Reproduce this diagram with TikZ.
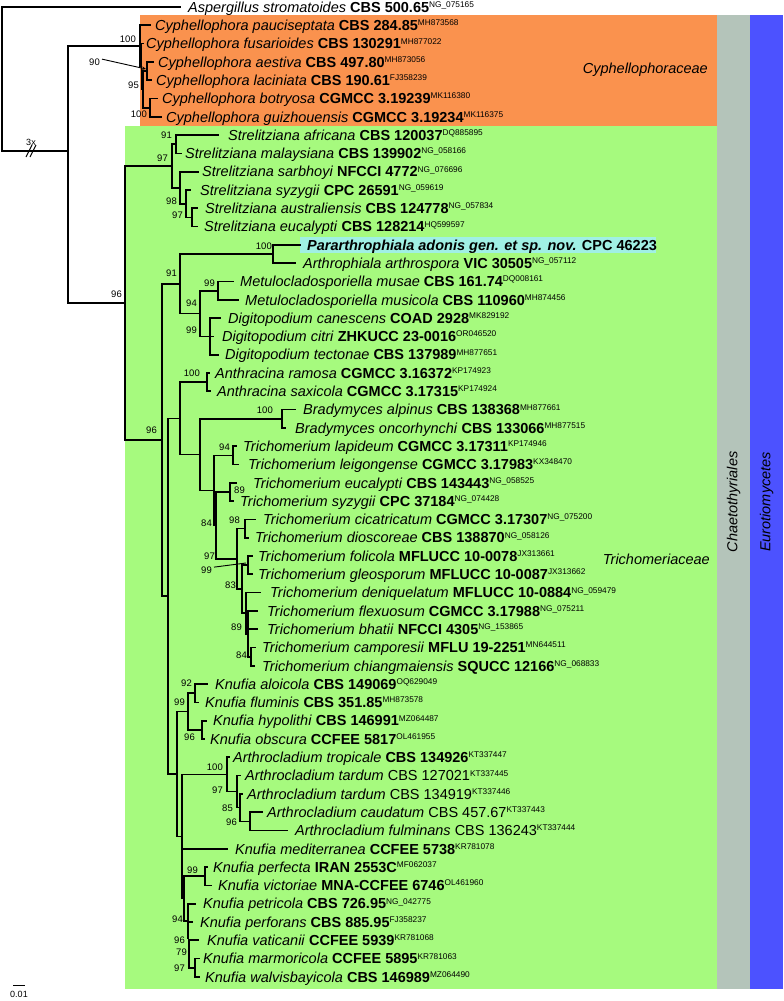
\documentclass[tikz,border=0pt]{standalone}
\usepackage{fontspec}
\setmainfont{Liberation Sans}
\usetikzlibrary{arrows.meta}
\definecolor{orng}{RGB}{250,146,78}
\definecolor{grn}{RGB}{166,250,126}
\definecolor{gry}{RGB}{180,196,186}
\definecolor{blu}{RGB}{76,82,255}
\definecolor{cyn}{RGB}{160,240,228}
\newcommand\sx[1]{\raisebox{4.8pt}{\fontsize{8.3}{9}\selectfont #1}}
\newcommand\tb[3]{\textit{#1} \textbf{#2}\sx{#3}}
\newcommand\tn[3]{\textit{#1} #2\sx{#3}}
\newcommand\lf[5]{\coordinate (#1) at (#2,#3);\node[lf] (t#1) at (#4,#3+5.2) {#5};}
\begin{document}
\begin{tikzpicture}[x=1pt,y=-1pt,
  br/.style={line width=1.7pt,line cap=rect},
  lf/.style={anchor=base west,inner sep=0pt,font=\fontsize{14.5}{16}\selectfont},
  bs/.style={anchor=base east,inner sep=0pt,font=\fontsize{9.5}{10}\selectfont},
  grp/.style={inner sep=0pt,font=\fontsize{14.5}{16}\selectfont\itshape}]
\fill[white] (0,0) rectangle (784,1001);
\useasboundingbox (0,0) rectangle (784,1001);
% coloured panels
\fill[grn] (125,126) rectangle (717,989);
\fill[orng] (140,15) rectangle (717,126);
\fill[gry] (717,15) rectangle (750,989);
\fill[blu] (750,15) rectangle (783,989);
\fill[cyn] (300,237) rectangle (656,253);
% group labels
\node[grp,anchor=east] (gCyph) at (708,70) {Cyphellophoraceae};
\node[grp,anchor=east] (gTri) at (710,559) {Trichomeriaceae};
\node[grp,rotate=90] (gCha) at (733.5,502) {Chaetothyriales};
\node[grp,rotate=90] (gEur) at (766.5,502) {Eurotiomycetes};
% internal nodes
\coordinate (r) at (2,79);
\coordinate (ing) at (68,151);
\coordinate (c100) at (140,45.9);
\coordinate (cX) at (141.5,66.5);
\coordinate (c95) at (143,89.35);
\coordinate (c90) at (147,71.05);
\coordinate (cB) at (150,107.65);
\coordinate (nA) at (125,303);
\coordinate (s97) at (172,166);
\coordinate (s91) at (176,144.25);
\coordinate (sX) at (180,187.7);
\coordinate (s98) at (186,203.7);
\coordinate (s97b) at (192,217.45);
\coordinate (nB) at (162,440);
\coordinate (n91) at (180,283.8);
\coordinate (p100) at (273,254.05);
\coordinate (n94) at (200,313.5);
\coordinate (m99) at (218,290.65);
\coordinate (d99) at (210,336.4);
\coordinate (nC) at (168,596.2);
\coordinate (nD) at (180,418.4);
\coordinate (a100) at (207,382.15);
\coordinate (nE) at (200,454.6);
\coordinate (b100) at (282,418.75);
\coordinate (nF) at (214,490.4);
\coordinate (t94) at (233,455.35);
\coordinate (nG) at (216,525.4);
\coordinate (t89) at (230,491.95);
\coordinate (nH) at (237,558.9);
\coordinate (t98) at (245,528.55);
\coordinate (nI) at (242,589.2);
\coordinate (t99) at (248,565.15);
\coordinate (nJ) at (246,613.2);
\coordinate (nK) at (248,633.8);
\coordinate (nL) at (251,656.65);
\coordinate (nQ) at (177,774.0);
\coordinate (k99) at (188,711.55);
\coordinate (k92) at (195,693.25);
\coordinate (k96) at (202,729.85);
\coordinate (nR) at (182,836.5);
\coordinate (ar100) at (227,774.45);
\coordinate (nY) at (237,791.6);
\coordinate (nZ) at (240,807.6);
\coordinate (nW) at (250,821.35);
\coordinate (nT) at (184,898.6);
\coordinate (pv99) at (205,876.25);
\coordinate (k94) at (188,920.9);
\coordinate (k96b) at (188.6,938);
\coordinate (k79) at (189.2,954);
\coordinate (kMW) at (195,967.75);
% leaves
\lf{l1}{180}{7}{188}{\tb{Aspergillus stromatoides}{CBS 500.65}{NG\_075165}}
\lf{l2}{150}{25.3}{155}{\tb{Cyphellophora pauciseptata}{CBS 284.85}{MH873568}}
\lf{l3}{143}{43.6}{146}{\tb{Cyphellophora fusarioides}{CBS 130291}{MH877022}}
\lf{l4}{153}{61.9}{158}{\tb{Cyphellophora aestiva}{CBS 497.80}{MH873056}}
\lf{l5}{151}{80.2}{156}{\tb{Cyphellophora laciniata}{CBS 190.61}{FJ358239}}
\lf{l6}{157}{98.5}{162}{\tb{Cyphellophora botryosa}{CGMCC 3.19239}{MK116380}}
\lf{l7}{161}{116.8}{166}{\tb{Cyphellophora guizhouensis}{CGMCC 3.19234}{MK116375}}
\lf{l8}{218}{135.1}{228}{\tb{Strelitziana africana}{CBS 120037}{DQ885895}}
\lf{l9}{181}{153.4}{185}{\tb{Strelitziana malaysiana}{CBS 139902}{NG\_058166}}
\lf{l10}{198}{171.7}{202}{\tb{Strelitziana sarbhoyi}{NFCCI 4772}{NG\_076696}}
\lf{l11}{190}{190}{200}{\tb{Strelitziana syzygii}{CPC 26591}{NG\_059619}}
\lf{l12}{197}{208.3}{205}{\tb{Strelitziana australiensis}{CBS 124778}{NG\_057834}}
\lf{l13}{197}{226.6}{204}{\tb{Strelitziana eucalypti}{CBS 128214}{HQ599597}}
\lf{l14}{300}{244.9}{307}{\textbf{\textit{Pararthrophiala adonis gen. et sp. nov.} CPC 46223}}
\lf{l15}{295}{263.2}{303}{\tb{Arthrophiala arthrospora}{VIC 30505}{NG\_057112}}
\lf{l16}{233}{281.5}{240}{\tb{Metulocladosporiella musae}{CBS 161.74}{DQ008161}}
\lf{l17}{238}{299.8}{245}{\tb{Metulocladosporiella musicola}{CBS 110960}{MH874456}}
\lf{l18}{220}{318.1}{228}{\tb{Digitopodium canescens}{COAD 2928}{MK829192}}
\lf{l19}{213}{336.4}{222}{\tb{Digitopodium citri}{ZHKUCC 23-0016}{OR046520}}
\lf{l20}{218}{354.7}{225}{\tb{Digitopodium tectonae}{CBS 137989}{MH877651}}
\lf{l21}{209}{373}{215}{\tb{Anthracina ramosa}{CGMCC 3.16372}{KP174923}}
\lf{l22}{210}{391.3}{217}{\tb{Anthracina saxicola}{CGMCC 3.17315}{KP174924}}
\lf{l23}{295}{409.6}{303}{\tb{Bradymyces alpinus}{CBS 138368}{MH877661}}
\lf{l24}{285}{427.9}{295}{\tb{Bradymyces oncorhynchi}{CBS 133066}{MH877515}}
\lf{l25}{236}{446.2}{243}{\tb{Trichomerium lapideum}{CGMCC 3.17311}{KP174946}}
\lf{l26}{238}{464.5}{248}{\tb{Trichomerium leigongense}{CGMCC 3.17983}{KX348470}}
\lf{l27}{236}{482.8}{253}{\tb{Trichomerium eucalypti}{CBS 143443}{NG\_058525}}
\lf{l28}{233}{501.1}{240}{\tb{Trichomerium syzygii}{CPC 37184}{NG\_074428}}
\lf{l29}{255}{519.4}{263}{\tb{Trichomerium cicatricatum}{CGMCC 3.17307}{NG\_075200}}
\lf{l30}{248}{537.7}{255}{\tb{Trichomerium dioscoreae}{CBS 138870}{NG\_058126}}
\lf{l31}{252}{556}{258}{\tb{Trichomerium folicola}{MFLUCC 10-0078}{JX313661}}
\lf{l32}{252}{574.3}{258}{\tb{Trichomerium gleosporum}{MFLUCC 10-0087}{JX313662}}
\lf{l33}{260}{592.6}{270}{\tb{Trichomerium deniquelatum}{MFLUCC 10-0884}{NG\_059479}}
\lf{l34}{257}{610.9}{267}{\tb{Trichomerium flexuosum}{CGMCC 3.17988}{NG\_075211}}
\lf{l35}{257}{629.2}{267}{\tb{Trichomerium bhatii}{NFCCI 4305}{NG\_153865}}
\lf{l36}{255}{647.5}{262}{\tb{Trichomerium camporesii}{MFLU 19-2251}{MN644511}}
\lf{l37}{254}{665.8}{262}{\tb{Trichomerium chiangmaiensis}{SQUCC 12166}{NG\_068833}}
\lf{l38}{207}{684.1}{215}{\tb{Knufia aloicola}{CBS 149069}{OQ629049}}
\lf{l39}{198}{702.4}{205}{\tb{Knufia fluminis}{CBS 351.85}{MH873578}}
\lf{l40}{206}{720.7}{213}{\tb{Knufia hypolithi}{CBS 146991}{MZ064487}}
\lf{l41}{204}{739}{210}{\tb{Knufia obscura}{CCFEE 5817}{OL461955}}
\lf{l42}{229}{757.3}{233}{\tb{Arthrocladium tropicale}{CBS 134926}{KT337447}}
\lf{l43}{240}{775.6}{245}{\tn{Arthrocladium tardum}{CBS 127021}{KT337445}}
\lf{l44}{242}{793.9}{247}{\tn{Arthrocladium tardum}{CBS 134919}{KT337446}}
\lf{l45}{262}{812.2}{267}{\tn{Arthrocladium caudatum}{CBS 457.67}{KT337443}}
\lf{l46}{287}{830.5}{295}{\tn{Arthrocladium fulminans}{CBS 136243}{KT337444}}
\lf{l47}{227}{848.8}{235}{\tb{Knufia mediterranea}{CCFEE 5738}{KR781078}}
\lf{l48}{207}{867.1}{213}{\tb{Knufia perfecta}{IRAN 2553C}{MF062037}}
\lf{l49}{211}{885.4}{218}{\tb{Knufia victoriae}{MNA-CCFEE 6746}{OL461960}}
\lf{l50}{195}{903.7}{203}{\tb{Knufia petricola}{CBS 726.95}{NG\_042775}}
\lf{l51}{192}{922}{200}{\tb{Knufia perforans}{CBS 885.95}{FJ358237}}
\lf{l52}{198}{940.3}{207}{\tb{Knufia vaticanii}{CCFEE 5939}{KR781068}}
\lf{l53}{199}{958.6}{203}{\tb{Knufia marmoricola}{CCFEE 5895}{KR781063}}
\lf{l54}{199}{976.9}{205}{\tb{Knufia walvisbayicola}{CBS 146989}{MZ064490}}
% branches
\foreach \p/\c in {r/l1,r/ing,ing/c100,ing/nA,c100/l2,c100/cX,cX/l3,cX/c95,c95/c90,c95/cB,
  c90/l4,c90/l5,cB/l6,cB/l7,nA/s97,nA/nB,s97/s91,s97/sX,s91/l8,s91/l9,sX/l10,sX/s98,
  s98/l11,s98/s97b,s97b/l12,s97b/l13,nB/n91,nB/nC,n91/p100,n91/n94,p100/l14,p100/l15,
  n94/m99,n94/d99,m99/l16,m99/l17,d99/l18,d99/l19,d99/l20,nC/nD,nC/nQ,nD/a100,nD/nE,
  a100/l21,a100/l22,nE/b100,nE/nF,b100/l23,b100/l24,nF/t94,nF/nG,t94/l25,t94/l26,
  nG/t89,nG/nH,t89/l27,t89/l28,nH/t98,nH/nI,t98/l29,t98/l30,nI/t99,nI/nJ,t99/l31,t99/l32,
  nJ/l33,nJ/nK,nK/l34,nK/l35,nK/nL,nL/l36,nL/l37,nQ/k99,nQ/nR,k99/k92,k99/k96,
  k92/l38,k92/l39,k96/l40,k96/l41,nR/ar100,nR/l47,nR/nT,ar100/l42,ar100/nY,nY/l43,nY/nZ,
  nZ/l44,nZ/nW,nW/l45,nW/l46,nT/pv99,nT/k94,pv99/l48,pv99/l49,k94/l50,k94/k96b,
  k96b/l51,k96b/k79,k79/l52,k79/kMW,kMW/l53,kMW/l54}
  \draw[br] (\p) |- (\c);
% bootstrap values
\foreach \x/\y/\t [count=\i] in {136/39/100,100/62/90,139/85/95,147/114/100,
  172/135/91,168/158/97,177/201/98,183/215/97,122/294/96,
  272/246/100,177/273/91,215/283/99,197/303/94,197/330/99,
  200/373/100,273/410/100,157/430/96,230/447/94,245/490/89,
  212/523/84,240/520/98,215/556/97,212/570/99,236/585/83,242/627/89,247/655/84,
  192/683/92,185/702/99,195/737/96,223/767/100,223/790/97,233/808/85,237/822/96,
  198/870/99,183/919/94,185/940/96,187/952/79,185/968/97}
  \node[bs] (bs\i) at (\x,\y+3.4) {\t};
\draw[line width=0.9pt,-{Stealth[length=4pt,width=3.5pt]}] (bs2.east) ++(2,-3) coordinate (a90) -- (146,69);
\draw[line width=0.9pt] (bs23.east) ++(2,-3) coordinate (a99) -- (246,563);
% break mark and scale bar
\node[inner sep=0pt,font=\fontsize{9}{10}\selectfont] (brk) at (31,142) {3x};
\draw[line width=0.9pt] (26,157) -- (32,145) (30,157) -- (36,145);
\draw[line width=1pt] (13,985) coordinate (sb1) -- (25,985) coordinate (sb2);
\node[inner sep=0pt,font=\fontsize{9}{10}\selectfont] (scl) at (19,994) {0.01};
\end{tikzpicture}
\end{document}
